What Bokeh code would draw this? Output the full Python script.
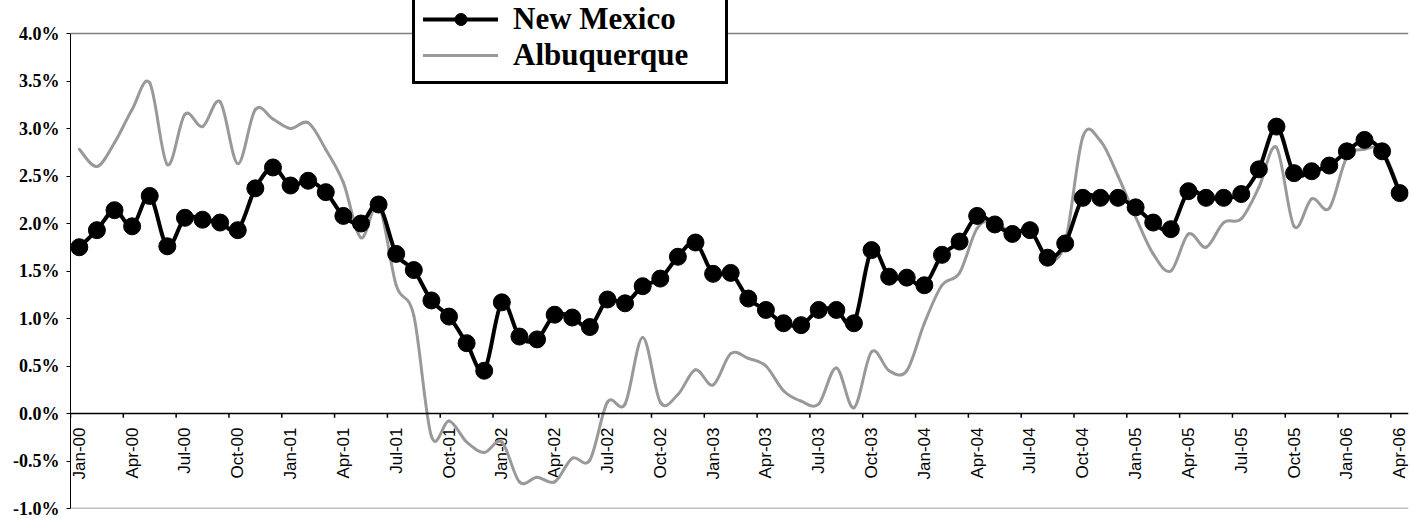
from math import pi
from bokeh.plotting import figure
from bokeh.models import Range1d, FixedTicker, PrintfTickFormatter, Span, Legend, LegendItem
from bokeh.core.properties import value
from bokeh.embed import file_html
from bokeh.resources import INLINE

# ---------------- data ----------------
years = ["00", "01", "02", "03", "04", "05", "06"]
month_names = ["Jan", "Feb", "Mar", "Apr", "May", "Jun", "Jul", "Aug", "Sep", "Oct", "Nov", "Dec"]
months = [f"{m}-{y}" for y in years for m in month_names][:76]

new_mexico = [
    1.75, 1.93, 2.14, 1.97, 2.29, 1.76, 2.06, 2.04, 2.01, 1.93, 2.37, 2.59,
    2.40, 2.45, 2.33, 2.08, 2.00, 2.20, 1.68, 1.51, 1.19, 1.02, 0.74, 0.45,
    1.17, 0.81, 0.78, 1.04, 1.01, 0.91, 1.20, 1.16, 1.34, 1.42, 1.65, 1.80,
    1.47, 1.48, 1.21, 1.09, 0.95, 0.93, 1.09, 1.09, 0.95, 1.72, 1.44, 1.43,
    1.35, 1.67, 1.81, 2.08, 1.99, 1.89, 1.93, 1.64, 1.79, 2.27, 2.27, 2.27,
    2.17, 2.01, 1.94, 2.34, 2.27, 2.27, 2.31, 2.57, 3.02, 2.53, 2.55, 2.61,
    2.76, 2.88, 2.76, 2.32,
]

albuquerque = [
    2.78, 2.60, 2.85, 3.20, 3.48, 2.62, 3.15, 3.02, 3.28, 2.63, 3.20, 3.10,
    3.00, 3.06, 2.78, 2.43, 1.85, 2.20, 1.35, 1.03, -0.24, -0.08, -0.30, -0.41,
    -0.30, -0.72, -0.67, -0.72, -0.47, -0.49, 0.12, 0.10, 0.80, 0.12, 0.20, 0.46,
    0.30, 0.63, 0.58, 0.50, 0.24, 0.13, 0.10, 0.48, 0.06, 0.65, 0.45, 0.45,
    0.95, 1.35, 1.48, 1.95, 2.02, 1.89, 1.93, 1.63, 1.80, 2.91, 2.87, 2.50,
    2.07, 1.68, 1.50, 1.89, 1.75, 2.01, 2.05, 2.38, 2.80, 1.97, 2.26, 2.16,
    2.70, 2.78, 2.77, 2.35,
]

tick_labels = [
    "Jan-00", "Apr-00", "Jul-00", "Oct-00", "Jan-01", "Apr-01", "Jul-01", "Oct-01",
    "Jan-02", "Apr-02", "Jul-02", "Oct-02", "Jan-03", "Apr-03", "Jul-03", "Oct-03",
    "Jan-04", "Apr-04", "Jul-04", "Oct-04", "Jan-05", "Apr-05", "Jul-05", "Oct-05",
    "Jan-06", "Apr-06",
]
y_ticks = [-1.0, -0.5, 0.0, 0.5, 1.0, 1.5, 2.0, 2.5, 3.0, 3.5, 4.0]
y_min, y_max = -1.0, 4.0

# ---------------- derived positions ----------------
idx = list(range(len(months)))
label_pos = [months.index(t) for t in tick_labels]
tick_bounds = [i - 0.5 for i in label_pos]
TICK_LEN = 0.045

# plot frame: 0.5% every 47.5 px, with 33 px of headroom above the 4.0% line
PX_PER_UNIT = 95.0
HEADROOM = 33 / PX_PER_UNIT


def smooth_segments(vals):
    """Cubic (Catmull-Rom style) control points for a smoothed line through vals."""
    n = len(vals)
    out = dict(x0=[], y0=[], x1=[], y1=[], cx0=[], cy0=[], cx1=[], cy1=[])
    for i in range(n - 1):
        im = i - 1 if i > 0 else i
        ip = i + 2 if i + 2 < n else i + 1
        out["x0"].append(i)
        out["y0"].append(vals[i])
        out["x1"].append(i + 1)
        out["y1"].append(vals[i + 1])
        out["cx0"].append(i + (i + 1 - im) / 6)
        out["cy0"].append(vals[i] + (vals[i + 1] - vals[im]) / 6)
        out["cx1"].append(i + 1 - (ip - i) / 6)
        out["cy1"].append(vals[i + 1] - (vals[ip] - vals[i]) / 6)
    return out


# ---------------- figure ----------------
p = figure(width=1411, height=518, output_backend="svg", toolbar_location=None,
           x_range=Range1d(-0.5, len(months) - 0.5),
           y_range=Range1d(y_min, y_max + HEADROOM),
           min_border_left=70, min_border_right=3, min_border_top=0, min_border_bottom=10)
p.background_fill_color = "white"
p.border_fill_color = "white"
p.outline_line_color = None
p.xgrid.visible = False
p.ygrid.visible = False
p.xaxis.visible = False

yax = p.yaxis[0]
yax.ticker = FixedTicker(ticks=y_ticks)
yax.bounds = (y_min, y_max)
yax.formatter = PrintfTickFormatter(format="%.1f%%")
yax.major_label_text_font = "Liberation Serif"
yax.major_label_text_font_style = "bold"
yax.major_label_text_font_size = "18px"
yax.major_label_text_color = "black"
yax.axis_line_color = "black"
yax.axis_line_width = 1
yax.major_tick_out = 4
yax.major_tick_in = 0
yax.minor_tick_line_color = None
yax.major_label_standoff = 7

# plot-area border lines (top and bottom)
p.add_layout(Span(location=y_max, dimension="width", line_color="#808080", line_width=1.5))
p.add_layout(Span(location=y_min, dimension="width", line_color="#808080", line_width=1.5))

# zero axis line with ticks and labels
p.add_layout(Span(location=0, dimension="width", line_color="black", line_width=1.5))
p.segment(x0=tick_bounds, y0=[0] * len(tick_bounds), x1=tick_bounds,
          y1=[-TICK_LEN] * len(tick_bounds), line_color="black", line_width=1.5)
p.text(x=label_pos, y=[0] * len(label_pos), text=tick_labels, angle=pi / 2,
       text_align="right", text_baseline="middle", y_offset=14,
       text_font=value("Liberation Sans"), text_font_size="17px", text_color="black")

# series (smoothed lines, as in the original spreadsheet chart)
alb = p.bezier(line_color="#999999", line_width=3, line_cap="round",
               **smooth_segments(albuquerque))
nm_line = p.bezier(line_color="black", line_width=4, line_cap="round",
                   **smooth_segments(new_mexico))
nm_pts = p.scatter(idx, new_mexico, size=17, fill_color="black", line_color="black")

legend = Legend(
    items=[LegendItem(label="New Mexico", renderers=[nm_line, nm_pts]),
           LegendItem(label="Albuquerque", renderers=[alb])],
    location=(342, 424), orientation="vertical",
    label_text_font="Liberation Serif", label_text_font_style="bold",
    label_text_font_size="31px", label_text_color="black",
    border_line_color="black", border_line_width=3, border_line_alpha=1.0,
    background_fill_color="white", background_fill_alpha=1.0,
    padding=8, spacing=0, margin=0, glyph_width=75, glyph_height=30,
    label_standoff=15, label_width=204,
)
p.add_layout(legend)

open("out.html", "w").write(file_html(p, INLINE))
